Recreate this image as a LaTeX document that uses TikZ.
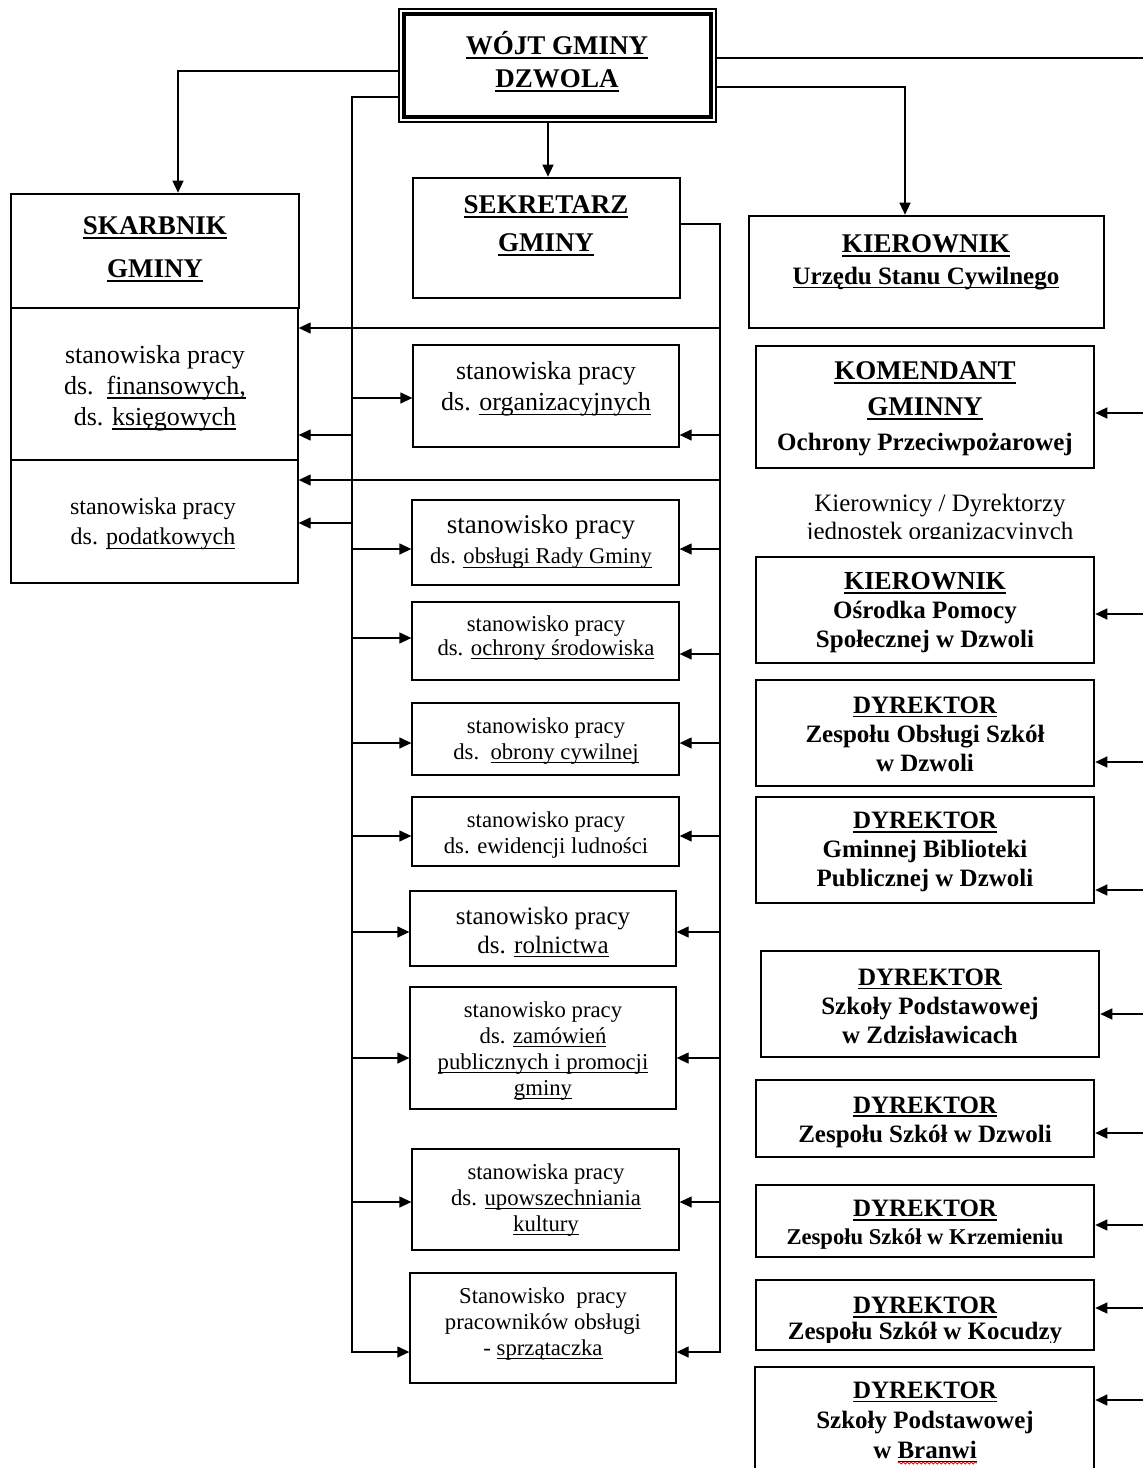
\documentclass[tikz,border=0pt]{standalone}
\usepackage{fontspec}
\setmainfont{Liberation Serif}
\usetikzlibrary{arrows.meta,fit,decorations.pathmorphing}
\newcommand\fs[2]{\fontsize{#1}{#2}\selectfont}
\newcommand\myul[2]{\leavevmode\setbox0\hbox{#2}\rlap{\rule[-0.17em]{\wd0}{#1}}\box0}
\newcommand\bu[1]{\myul{1.9pt}{#1}}
\newcommand\ru[1]{\myul{1.2pt}{#1}}
\begin{document}
\begin{tikzpicture}[x=1pt,y=-1pt,
  ln/.style={line width=1.3pt},
  arr/.style={line width=1.3pt,-{Triangle[length=12pt,width=11pt]}},
  thinbx/.style={draw,line width=1.3pt,inner sep=0pt},
  thickbx/.style={draw,line width=2.6pt,inner sep=0pt},
  txt/.style={align=center,inner sep=0pt},
  hdtxt/.style={align=center,inner sep=0pt,font=\bfseries}]
\useasboundingbox (0,0) rectangle (1143,1468);
\clip (0,0) rectangle (1143,1468);
\fill[white] (0,0) rectangle (1143,1468);

% ---------- boxes ----------
\node[thinbx,fit={(399,9)(716,122)}] (wojt) {};
\draw[line width=4.5pt] ([shift={(5.5,5.5)}]wojt.north west) rectangle ([shift={(-5.5,-5.5)}]wojt.south east);
\node[thickbx,fit={(11,194)(299,308)}] (skarb) {};
\node[thinbx,fit={(11,308)(298,460)}] (skarbA) {};
\node[thinbx,fit={(11,460)(298,583)}] (skarbB) {};
\node[thickbx,fit={(413,178)(680,298)}] (sekr) {};
\node[thinbx,fit={(413,345)(679,447)}] (b1) {};
\node[thinbx,fit={(412,500)(679,585)}] (b2) {};
\node[thinbx,fit={(412,602)(679,680)}] (b3) {};
\node[thinbx,fit={(412,703)(679,775)}] (b4) {};
\node[thinbx,fit={(412,797)(679,866)}] (b5) {};
\node[thinbx,fit={(410,891)(676,966)}] (b6) {};
\node[thinbx,fit={(410,987)(676,1109)}] (b7) {};
\node[thinbx,fit={(412,1149)(679,1250)}] (b8) {};
\node[thinbx,fit={(410,1273)(676,1383)}] (b9) {};
\node[thickbx,fit={(749,216)(1104,328)}] (usc) {};
\node[thickbx,fit={(756,346)(1094,468)}] (kom) {};
\node[thickbx,fit={(756,557)(1094,663)}] (ops) {};
\node[thickbx,fit={(756,680)(1094,786)}] (zos) {};
\node[thickbx,fit={(756,797)(1094,903)}] (gbp) {};
\node[thickbx,fit={(761,951)(1099,1057)}] (spz) {};
\node[thickbx,fit={(756,1080)(1094,1157)}] (zsd) {};
\node[thickbx,fit={(756,1185)(1094,1257)}] (zsk) {};
\node[thickbx,fit={(756,1280)(1094,1350)}] (zsc) {};
\node[thickbx,fit={(755,1367)(1094,1490)}] (spb) {};

% ---------- texts ----------
\node[hdtxt,font=\bfseries\fs{27}{33}] (wojtT) at (557,62) {\bu{WÓJT GMINY}\\\bu{DZWOLA}};
\node[hdtxt,font=\bfseries\fs{27}{43}] (skarbT) at (155,249) {\bu{SKARBNIK}\\\bu{GMINY}};
\node[txt,font=\fs{26}{31}] (skarbAT) at (155,388) {stanowiska pracy\\ds.\ \ \ru{finansowych,}\\ds. \ru{księgowych}};
\node[txt,font=\fs{24}{30}] (skarbBT) at (153,524) {stanowiska pracy\\ds. \ru{podatkowych}};
\node[hdtxt,font=\bfseries\fs{27}{38}] (sekrT) at (546,226) {\bu{SEKRETARZ}\\\bu{GMINY}};
\node[txt,font=\fs{26}{31}] (b1T) at (546,389) {stanowiska pracy\\ds. \ru{organizacyjnych}};
\node[txt,font=\fs{22.6}{30}] (b2T) at (541,542) {{\fs{27}{30}stanowisko pracy}\\ds. \ru{obsługi Rady Gminy}};
\node[txt,font=\fs{22.7}{24}] (b3T) at (546,638) {stanowisko pracy\\ds. \ru{ochrony środowiska}};
\node[txt,font=\fs{22.7}{26}] (b4T) at (546,741) {stanowisko pracy\\ds.\ \ \ru{obrony cywilnej}};
\node[txt,font=\fs{22.7}{26}] (b5T) at (546,835) {stanowisko pracy\\ds. ewidencji ludności};
\node[txt,font=\fs{25}{29}] (b6T) at (543,932) {stanowisko pracy\\ds. \ru{rolnictwa}};
\node[txt,font=\fs{22.7}{26}] (b7T) at (543,1051) {stanowisko pracy\\ds. \ru{zamówień}\\\ru{publicznych i promocji}\\\ru{gminy}};
\node[txt,font=\fs{22.7}{26}] (b8T) at (546,1200) {stanowiska pracy\\ds. \ru{upowszechniania}\\\ru{kultury}};
\node[txt,font=\fs{22.7}{26}] (b9T) at (543,1324) {Stanowisko\ \ pracy\\pracowników obsługi\\- \ru{sprzątaczka}};

\node[hdtxt,font=\bfseries\fs{25}{32}] (uscT) at (926,262) {{\fs{27}{32}\bu{KIEROWNIK}}\\\bu{Urzędu Stanu Cywilnego}};
\node[hdtxt,font=\bfseries\fs{25}{35.5}] (komT) at (925,409) {{\fs{27}{35.5}\bu{KOMENDANT}}\\{\fs{27}{35.5}\bu{GMINNY}}\\Ochrony Przeciwpożarowej};
\begin{scope}
\clip (740,480) rectangle (1143,538);
\node[txt,font=\fs{25}{28}] (kierT) at (940,520) {Kierownicy / Dyrektorzy\\jednostek organizacyjnych};
\end{scope}
\node[hdtxt,font=\bfseries\fs{25}{29}] (opsT) at (925,613) {{\fs{26}{29}\bu{KIEROWNIK}}\\Ośrodka Pomocy\\Społecznej w Dzwoli};
\node[hdtxt,font=\bfseries\fs{25}{29}] (zosT) at (925,734) {\bu{DYREKTOR}\\Zespołu Obsługi Szkół\\w Dzwoli};
\node[hdtxt,font=\bfseries\fs{25}{29}] (gbpT) at (925,852) {\bu{DYREKTOR}\\Gminnej Biblioteki\\Publicznej w Dzwoli};
\node[hdtxt,font=\bfseries\fs{25}{29}] (spzT) at (930,1006) {\bu{DYREKTOR}\\Szkoły Podstawowej\\w Zdzisławicach};
\node[hdtxt,font=\bfseries\fs{25}{29}] (zsdT) at (925,1122) {\bu{DYREKTOR}\\Zespołu Szkół w Dzwoli};
\node[hdtxt,font=\bfseries\fs{22.6}{28}] (zskT) at (925,1225) {{\fs{25}{28}\bu{DYREKTOR}}\\Zespołu Szkół w Krzemieniu};
\begin{scope}
\clip (756,1280) rectangle (1094,1342);
\node[hdtxt,font=\bfseries\fs{25}{26}] (zscT) at (925,1321) {\bu{DYREKTOR}\\Zespołu Szkół w Kocudzy};
\end{scope}
\node[hdtxt,font=\bfseries\fs{25}{30}] (spbT) at (925,1422) {\bu{DYREKTOR}\\Szkoły Podstawowej\\w \bu{Branwi}};
\draw[red,line width=0.8pt,decorate,decoration={snake,amplitude=1pt,segment length=4pt}] (898,1463) -- (977,1463);

% ---------- connectors ----------
\coordinate (Lbus) at (352,97);
\coordinate (Rbus) at (720,224);
\coordinate (Ebus) at (1143,58);

\draw[ln] (wojt.east |- Ebus) -- (Ebus);
\draw[arr] (wojt.east |- 0,87) -| (usc.north -| 905,0);
\draw[arr] (wojt.west |- 0,71) -| (skarb.north -| 178,0);
\draw[arr] (wojt.south -| 548,0) -- (sekr.north -| 548,0);
\draw[arr] (wojt.west |- Lbus) -- (Lbus) -- (Lbus |- 0,1352) -- (b9.west |- 0,1352);
\draw[arr] (sekr.east |- Rbus) -- (Rbus) -- (Rbus |- 0,1352) -- (b9.east |- 0,1352);

\draw[arr] (Rbus |- 0,328) -- (skarbA.east |- 0,328);
\draw[arr] (Rbus |- 0,480) -- (skarbB.east |- 0,480);
\draw[arr] (Lbus |- 0,435) -- (skarbA.east |- 0,435);
\draw[arr] (Lbus |- 0,523) -- (skarbB.east |- 0,523);

\foreach \y/\b in {398/b1,549/b2,638/b3,743/b4,836/b5,932/b6,1058/b7,1202/b8}
  \draw[arr] (Lbus |- 0,\y) -- (\b.west |- 0,\y);
\foreach \y/\b in {435/b1,549/b2,654/b3,743/b4,836/b5,932/b6,1058/b7,1202/b8}
  \draw[arr] (Rbus |- 0,\y) -- (\b.east |- 0,\y);
\foreach \y/\b in {413/kom,614/ops,762/zos,890/gbp,1014/spz,1133/zsd,1225/zsk,1308/zsc,1400/spb}
  \draw[arr] (Ebus |- 0,\y) -- (\b.east |- 0,\y);
\end{tikzpicture}
\end{document}
